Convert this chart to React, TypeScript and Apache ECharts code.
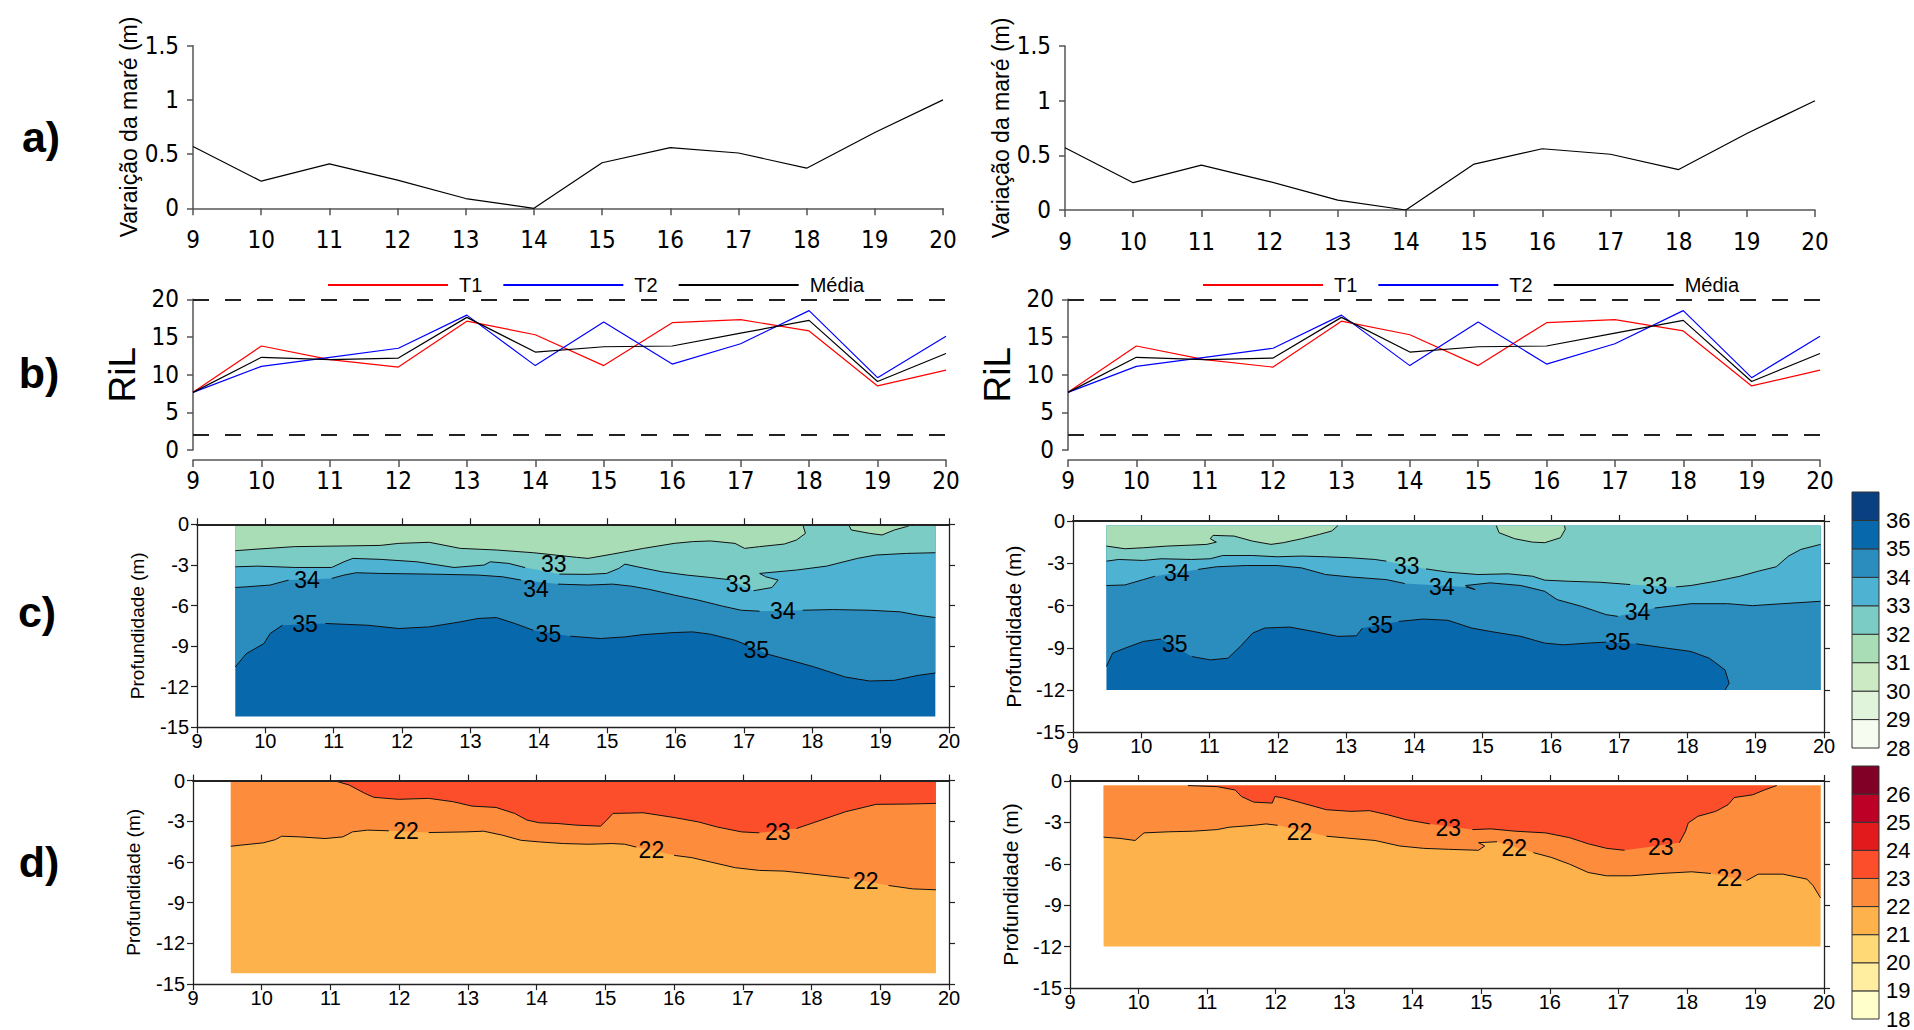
import React, { useEffect, useRef } from "react";
import * as echarts from "echarts";

// ---------------- data ----------------
const HOURS = [9, 10, 11, 12, 13, 14, 15, 16, 17, 18, 19, 20];
const TIDE_M = [0.57, 0.25, 0.41, 0.26, 0.09, 0.0, 0.42, 0.56, 0.51, 0.37, 0.7, 1.0];
const RIL_T1 = [7.65, 13.8, 12.0, 11.0, 17.1, 15.3, 11.2, 16.9, 17.3, 15.8, 8.5, 10.6];
const RIL_T2 = [7.65, 11.1, 12.3, 13.5, 17.9, 11.2, 17.0, 11.4, 14.1, 18.5, 9.6, 15.1];
const RIL_MEDIA = [7.65, 12.3, 12.0, 12.2, 17.6, 13.0, 13.7, 13.8, 15.5, 17.2, 9.1, 12.8];
const RIL_LIMITS = [20, 2];
const LEGEND_NAMES = ["T1", "T2", "Média"];
const TIDE_TITLES = ["Varaição da maré (m)", "Variação da maré (m)"];
const DEPTH_TITLE = "Profundidade (m)";
const RIL_TITLE = "RiL";
const PANEL_LETTERS = ["a)", "b)", "c)", "d)"];

const SAL_LEVELS = [28, 29, 30, 31, 32, 33, 34, 35, 36];
const SAL_COLORS = ["#f7fcf0", "#e0f3db", "#ccebc5", "#a8ddb5", "#7bccc4", "#4eb3d3", "#2b8cbe", "#0868ac", "#084081"];
const TEMP_LEVELS = [18, 19, 20, 21, 22, 23, 24, 25, 26];
const TEMP_COLORS = ["#ffffcc", "#ffeda0", "#fed976", "#feb24c", "#fd8d3c", "#fc4e2a", "#e31a1c", "#bd0026", "#800026"];

// data extents [xMin, xMax, top depth, bottom depth]
const C_LEFT_EXT = [9.56, 19.8, 0, -14.2];
const C_RIGHT_EXT = [9.49, 19.95, -0.33, -12];
const D_LEFT_EXT = [9.55, 19.81, 0, -14.2];
const D_RIGHT_EXT = [9.49, 19.95, -0.33, -12];

type P = number[] | null;

// salinity isolines, left section
const CL_32: P[] = [[9.56,-1.95],[9.89,-1.83],[10.43,-1.65],[11.15,-1.6],[11.68,-1.56],[11.95,-1.41],[12.4,-1.33],[12.85,-1.78],[13.38,-1.9],[13.92,-2.1],[14.55,-2.44],[14.72,-2.52],[15.08,-2.2],[15.53,-1.78],[15.98,-1.41],[16.25,-1.28],[16.51,-1.23],[16.87,-1.41],[17.01,-1.78],[17.23,-1.65],[17.59,-1.46],[17.77,-1.16],[17.9,-0.67],[17.86,0]];
const CL_32B: P[] = [[18.53,0],[18.57,-0.42],[18.84,-0.67],[19.02,-0.79],[19.2,-0.42],[19.38,-0.17],[19.47,0]];
const CL_33: P[] = [[9.56,-3.14],[9.89,-3.09],[10.43,-3.19],[10.97,-3.19],[11.15,-2.77],[11.28,-2.52],[11.68,-2.59],[12.22,-2.77],[12.76,-3.19],[13.2,-3.01],[13.29,-2.77],[13.56,-2.89],[13.8,-3.2],null,[14.3,-3.68],[14.72,-3.7],[14.99,-3.63],[15.17,-3.26],[15.26,-2.94],[15.44,-3.14],[15.8,-3.51],[16.16,-3.75],[16.51,-3.93],[16.8,-4.1],null,[17.14,-4.91],[17.41,-4.67],[17.5,-4.12],[17.32,-3.88],[17.23,-3.63],[17.77,-3.38],[18.21,-3.09],[18.66,-2.52],[18.93,-2.27],[19.38,-2.15],[19.8,-2.1]];
const CL_34: P[] = [[9.56,-4.67],[9.72,-4.62],[10.07,-4.49],[10.34,-4.12],null,[10.97,-4.0],[11.15,-3.75],[11.33,-3.58],[11.68,-3.63],[12.4,-3.68],[13.11,-3.75],[13.47,-3.88],[13.74,-4.12],null,[14.28,-4.42],[14.72,-4.49],[15.08,-4.42],[15.35,-4.57],[15.62,-4.81],[15.98,-5.23],[16.33,-5.6],[16.69,-6.05],[16.96,-6.35],[17.23,-6.42],null,[17.86,-6.35],[18.3,-6.3],[18.84,-6.35],[19.29,-6.47],[19.55,-6.72],[19.8,-6.89]];
const CL_35: P[] = [[9.56,-10.54],[9.72,-9.56],[9.98,-8.81],[10.07,-8.07],[10.25,-7.46],null,[10.88,-7.33],[11.5,-7.46],[11.95,-7.7],[12.4,-7.58],[12.85,-7.21],[13.11,-6.96],[13.38,-6.89],[13.65,-7.33],[13.92,-7.83],null,[14.46,-8.27],[14.9,-8.44],[15.26,-8.32],[15.53,-8.15],[15.98,-8.0],[16.25,-7.95],[16.51,-8.12],[16.87,-8.57],[17.05,-8.94],null,[17.32,-9.56],[17.68,-10.05],[18.03,-10.54],[18.48,-11.28],[18.84,-11.58],[19.2,-11.53],[19.55,-11.16],[19.8,-10.99]];
const CL_LABELS: any[] = [[10.61,-4.12,"34"],[10.58,-7.38,"35"],[14.22,-2.95,"33"],[13.96,-4.75,"34"],[14.14,-8.12,"35"],[16.92,-4.42,"33"],[17.57,-6.42,"34"],[17.18,-9.31,"35"]];

// salinity isolines, right section
const CR_32: P[] = [[9.49,-1.78],[9.76,-1.97],[10.03,-1.9],[10.38,-1.78],[10.74,-1.71],[10.96,-1.66],[11.1,-1.5],[11.01,-1.26],[11.05,-1.02],[11.36,-1.07],[11.63,-1.43],[11.9,-1.66],[12.08,-1.54],[12.35,-1.26],[12.61,-0.95],[12.79,-0.71],[12.88,-0.33]];
const CR_32B: P[] = [[15.2,-0.33],[15.24,-0.83],[15.47,-1.26],[15.73,-1.5],[15.91,-1.54],[16.14,-1.19],[16.21,-0.59],[16.2,-0.33]];
const CR_33: P[] = [[9.49,-2.85],[9.67,-2.73],[10.03,-2.8],[10.29,-2.68],[10.74,-2.73],[11.01,-2.68],[11.19,-2.45],[11.63,-2.45],[11.99,-2.54],[12.35,-2.49],[12.7,-2.54],[13.06,-2.61],[13.42,-2.73],[13.59,-2.85],null,[14.17,-3.4],[14.49,-3.63],[14.93,-3.8],[15.38,-3.75],[15.73,-3.92],[15.91,-4.2],[16.27,-4.28],[16.72,-4.35],[17.16,-4.51],null,[17.83,-4.68],[18.05,-4.58],[18.41,-4.28],[18.77,-3.92],[19.04,-3.56],[19.3,-3.25],[19.48,-2.49],[19.66,-2.02],[19.95,-1.66]];
const CR_34: P[] = [[9.49,-4.58],[9.76,-4.54],[10.03,-4.16],[10.2,-3.92],null,[10.83,-3.44],[11.1,-3.25],[11.54,-3.16],[11.99,-3.16],[12.35,-3.33],[12.7,-3.8],[13.06,-3.97],[13.59,-4.16],[13.86,-4.44],null,[14.75,-4.68],[14.89,-4.87],[14.75,-4.58],[15.11,-4.39],[15.56,-4.58],[15.91,-4.99],[16.09,-5.58],[16.45,-6.06],[16.81,-6.65],[16.98,-6.77],null,[17.52,-6.18],[18.05,-5.87],[18.59,-5.87],[18.95,-6.01],[19.39,-5.87],[19.95,-5.7]];
const CR_35: P[] = [[9.49,-10.33],[9.58,-9.38],[9.76,-9.03],[10.03,-8.55],[10.29,-8.38],null,[10.74,-9.62],[11.01,-9.86],[11.27,-9.74],[11.45,-8.91],[11.63,-7.96],[11.81,-7.6],[12.17,-7.53],[12.52,-7.84],[12.88,-8.19],[13.15,-8.15],[13.24,-7.6],null,[13.77,-7.13],[14.13,-6.96],[14.49,-7.05],[14.84,-7.6],[15.11,-7.84],[15.56,-8.19],[15.91,-8.67],[16.18,-8.79],[16.54,-8.67],[16.81,-8.6],null,[17.25,-8.72],[17.7,-9.03],[18.05,-9.26],[18.32,-9.74],[18.55,-10.57],[18.61,-11.52],[18.55,-12]];
const CR_LABELS: any[] = [[10.52,-3.67,"34"],[13.89,-3.2,"33"],[14.4,-4.67,"34"],[17.52,-4.62,"33"],[17.27,-6.44,"34"],[10.49,-8.7,"35"],[13.5,-7.39,"35"],[16.98,-8.62,"35"]];

// temperature isolines, left section
const DL_22: P[] = [[9.55,-4.84],[9.67,-4.77],[10.02,-4.59],[10.2,-4.35],[10.29,-4.1],[10.56,-4.15],[10.92,-4.27],[11.18,-4.15],[11.32,-3.78],[11.54,-3.65],[11.85,-3.7],null,[12.43,-3.83],[12.97,-3.78],[13.23,-3.73],[13.5,-4.02],[13.77,-4.4],[14.04,-4.52],[14.39,-4.64],[14.75,-4.69],[15.1,-4.64],[15.28,-4.69],[15.45,-4.9],null,[16.0,-5.51],[16.26,-5.68],[16.53,-6.0],[16.89,-6.42],[17.24,-6.62],[17.6,-6.67],[17.96,-6.86],[18.31,-7.06],[18.55,-7.2],null,[19.12,-7.73],[19.47,-7.98],[19.81,-8.05]];
const DL_23: P[] = [[11.05,0],[11.27,-0.32],[11.5,-0.94],[11.63,-1.23],[11.99,-1.38],[12.43,-1.31],[12.79,-1.56],[13.06,-1.88],[13.41,-1.98],[13.68,-2.42],[13.86,-2.91],[14.04,-3.11],[14.3,-3.16],[14.57,-3.28],[14.93,-3.36],[15.02,-2.91],[15.11,-2.42],[15.55,-2.37],[16.0,-2.72],[16.35,-3.04],[16.62,-3.41],[16.98,-3.78],[17.24,-3.85],null,[17.78,-3.53],[18.14,-2.91],[18.49,-2.3],[18.94,-1.75],[19.38,-1.73],[19.81,-1.68]];
const DL_LABELS: any[] = [[12.1,-3.7,"22"],[15.67,-5.14,"22"],[18.79,-7.41,"22"],[17.51,-3.78,"23"]];

// temperature isolines, right section
const DR_22: P[] = [[9.49,-4.07],[9.73,-4.16],[9.95,-4.31],[10.08,-3.76],[10.44,-3.68],[10.79,-3.64],[11.15,-3.52],[11.32,-3.35],[11.68,-3.21],[11.86,-3.11],[12.03,-3.21],null,[12.74,-4.0],[13.1,-4.16],[13.45,-4.31],[13.81,-4.71],[14.16,-4.88],[14.52,-4.95],[14.96,-5.02],[15.05,-4.71],[14.96,-4.47],[15.23,-4.4],null,[15.76,-5.19],[16.03,-5.55],[16.29,-6.03],[16.56,-6.63],[16.83,-6.87],[17.18,-6.87],[17.62,-6.7],[18.07,-6.58],[18.35,-6.7],null,[18.87,-7.22],[19.04,-6.75],[19.4,-6.75],[19.75,-7.11],[19.84,-7.58],[19.95,-8.47]];
const DR_23: P[] = [[10.72,-0.33],[11.15,-0.41],[11.41,-0.65],[11.5,-1.12],[11.68,-1.53],[11.95,-1.6],[11.99,-1.12],[12.12,-1.24],[12.39,-1.6],[12.74,-2.08],[13.1,-2.2],[13.37,-2.15],[13.63,-2.44],[13.9,-2.8],[14.25,-3.11],null,[14.87,-3.52],[15.14,-3.47],[15.5,-3.64],[15.94,-3.76],[16.29,-4.11],[16.56,-4.55],[16.83,-4.88],[17.09,-5.02],null,[17.89,-4.47],[17.98,-3.64],[18.02,-3.04],[18.16,-2.56],[18.42,-2.2],[18.6,-1.72],[18.69,-1.2],[18.96,-1.0],[19.13,-0.65],[19.31,-0.33]];
const DR_LABELS: any[] = [[12.35,-3.68,"22"],[15.48,-4.88,"22"],[18.62,-7.03,"22"],[14.52,-3.4,"23"],[17.62,-4.78,"23"]];

// ---------------- styling ----------------
const NARROW = "'Liberation Sans Narrow', 'Arial Narrow', 'DejaVu Sans Condensed', sans-serif";
const SANS = "'Liberation Sans', Arial, Helvetica, sans-serif";
const AX = "#555";

const LAYOUT: Record<string, any> = {
  aL: { left: 193, top: 45.7, width: 750, height: 162.6 },
  aR: { left: 1065, top: 46, width: 750, height: 164 },
  bL: { left: 193, top: 299.3, width: 753, height: 150.7 },
  bR: { left: 1068, top: 299.3, width: 752, height: 150.7 },
  cL: { left: 197, top: 524.3, width: 752, height: 203 },
  cR: { left: 1073, top: 521, width: 751, height: 211.3 },
  dL: { left: 193, top: 780.6, width: 756, height: 203.5 },
  dR: { left: 1070, top: 781, width: 754, height: 207 },
  cbC: { left: 1852, top: 492, width: 27, height: 256 },
  cbD: { left: 1852, top: 766, width: 27, height: 256 },
};

const clean = (pts: P[]) => pts.filter((p) => p) as number[][];
const segmentsOf = (pts: P[]) => {
  const out: number[][][] = [];
  let cur: number[][] = [];
  pts.forEach((p) => {
    if (p) cur.push(p);
    else {
      if (cur.length > 1) out.push(cur);
      cur = [];
    }
  });
  if (cur.length > 1) out.push(cur);
  return out;
};

function buildOption() {
  const grids: any[] = [];
  const xAxes: any[] = [];
  const yAxes: any[] = [];
  const series: any[] = [];

  const addGrid = (r: any) => {
    grids.push({ left: r.left, top: r.top, width: r.width, height: r.height, containLabel: false });
    return grids.length - 1;
  };

  // ---- line panels ----
  const lineX = (g: number, offset: number, margin: number) => ({
    type: "value", gridIndex: g, min: 9, max: 20, interval: 1, offset,
    axisLine: { show: true, onZero: false, lineStyle: { color: AX, width: 1.5 } },
    axisTick: { show: true, length: 7, lineStyle: { color: AX, width: 1.5 } },
    axisLabel: { color: "#000", fontFamily: NARROW, fontSize: 24, margin },
    splitLine: { show: false },
  });
  const lineY = (g: number, max: number, interval: number, name: string, nameStyle: any, gap: number) => ({
    type: "value", gridIndex: g, min: 0, max, interval,
    axisLine: { show: true, onZero: false, lineStyle: { color: AX, width: 1.5 } },
    axisTick: { show: true, length: 6, lineStyle: { color: AX, width: 1.5 } },
    axisLabel: { color: "#000", fontFamily: NARROW, fontSize: 24, margin: 14 },
    splitLine: { show: false },
    name, nameLocation: "middle", nameRotate: 90, nameGap: gap, nameTextStyle: nameStyle,
  });

  ["aL", "aR"].forEach((k, i) => {
    const g = addGrid(LAYOUT[k]);
    const xi = xAxes.push(lineX(g, 0, 20)) - 1;
    const yi = yAxes.push(lineY(g, 1.5, 0.5, TIDE_TITLES[i], { fontFamily: SANS, fontSize: 23, color: "#000" }, 50)) - 1;
    series.push({
      type: "line", xAxisIndex: xi, yAxisIndex: yi, symbol: "none", silent: true,
      data: HOURS.map((h, j) => [h, TIDE_M[j]]),
      lineStyle: { color: "#000", width: 1.2 },
    });
  });

  ["bL", "bR"].forEach((k) => {
    const g = addGrid(LAYOUT[k]);
    const xi = xAxes.push(lineX(g, 10, 9)) - 1;
    const yi = yAxes.push(lineY(g, 20, 5, RIL_TITLE, { fontFamily: SANS, fontSize: 37, color: "#000" }, 52)) - 1;
    const sets = [RIL_T1, RIL_T2, RIL_MEDIA];
    const cols = ["#ff0000", "#0000ff", "#000000"];
    sets.forEach((vals, j) => {
      const s: any = {
        type: "line", name: LEGEND_NAMES[j], xAxisIndex: xi, yAxisIndex: yi, symbol: "none", silent: true,
        data: HOURS.map((h, m) => [h, vals[m]]),
        lineStyle: { color: cols[j], width: 1.2 }, itemStyle: { color: cols[j] },
      };
      if (j === 2) {
        s.markLine = {
          silent: true, symbol: ["none", "none"], label: { show: false },
          lineStyle: { type: [16, 16], color: "#222", width: 2 },
          data: RIL_LIMITS.map((v) => ({ yAxis: v })),
        };
      }
      series.push(s);
    });
  });

  // ---- contour panels ----
  const addContour = (key: string, regions: any[], isolines: P[][], labels: any[], titleGap: number, titleSize: number) => {
    const g = addGrid(LAYOUT[key]);
    const axisBase = (extra: any) => ({
      type: "value", gridIndex: g, splitLine: { show: false }, z: 5,
      axisLine: { show: true, onZero: false, lineStyle: { color: "#222", width: 1.3 } },
      axisTick: { show: true, length: 6, lineStyle: { color: "#222", width: 1.2 } },
      ...extra,
    });
    const xb = xAxes.push(axisBase({ min: 9, max: 20, interval: 1, position: "bottom",
      axisLabel: { color: "#000", fontFamily: SANS, fontSize: 20, margin: 4 } })) - 1;
    xAxes.push(axisBase({ min: 9, max: 20, interval: 1, position: "top", axisLabel: { show: false },
      axisLine: { show: true, onZero: false, lineStyle: { color: "#222", width: 2 } } }));
    const yl = yAxes.push(axisBase({ min: -15, max: 0, interval: 3, position: "left",
      axisLabel: { color: "#000", fontFamily: SANS, fontSize: 20, margin: 8 },
      name: DEPTH_TITLE, nameLocation: "middle", nameRotate: 90, nameGap: titleGap,
      nameTextStyle: { fontFamily: SANS, fontSize: titleSize, color: "#000" } })) - 1;
    yAxes.push(axisBase({ min: -15, max: 0, interval: 3, position: "right", axisLabel: { show: false } }));

    series.push({
      type: "custom", xAxisIndex: xb, yAxisIndex: yl, silent: true, clip: false, z: 1,
      data: regions.map((r) => [r.pts[0][0], r.pts[0][1]]),
      renderItem: (params: any, api: any) => {
        const r = regions[params.dataIndex];
        return { type: "polygon", shape: { points: r.pts.map((p: number[]) => api.coord(p)) }, style: { fill: r.color, stroke: null } };
      },
    });
    const segs: number[][][] = [];
    isolines.forEach((iso) => segmentsOf(iso).forEach((s) => segs.push(s)));
    series.push({
      type: "custom", xAxisIndex: xb, yAxisIndex: yl, silent: true, clip: false, z: 3,
      data: segs.map((s) => [s[0][0], s[0][1]]),
      renderItem: (params: any, api: any) => {
        const s = segs[params.dataIndex];
        return { type: "polyline", shape: { points: s.map((p) => api.coord(p)) }, style: { stroke: "#111", lineWidth: 1, fill: null } };
      },
    });
    series.push({
      type: "custom", xAxisIndex: xb, yAxisIndex: yl, silent: true, clip: false, z: 4,
      data: labels.map((l) => [l[0], l[1]]),
      renderItem: (params: any, api: any) => {
        const l = labels[params.dataIndex];
        const c = api.coord([l[0], l[1]]);
        return { type: "text", x: c[0], y: c[1], style: { text: l[2], fontFamily: SANS, fontSize: 23, fill: "#000", align: "center", verticalAlign: "middle" } };
      },
    });
  };

  const rect = (e: number[]) => [[e[0], e[2]], [e[1], e[2]], [e[1], e[3]], [e[0], e[3]]];
  const sal = (b: number) => SAL_COLORS[SAL_LEVELS.indexOf(b)];
  const tmp = (b: number) => TEMP_COLORS[TEMP_LEVELS.indexOf(b)];
  const topR = (e: number[]) => [e[1], e[2]];
  const topL = (e: number[]) => [e[0], e[2]];
  const botR = (e: number[]) => [e[1], e[3]];

  const e1 = C_LEFT_EXT;
  addContour("cL", [
    { color: sal(35), pts: rect(e1) },
    { color: sal(34), pts: [...clean(CL_35), topR(e1), topL(e1)] },
    { color: sal(33), pts: [...clean(CL_34), topR(e1), topL(e1)] },
    { color: sal(32), pts: [...clean(CL_33), topR(e1), topL(e1)] },
    { color: sal(31), pts: [...clean(CL_32), topL(e1)] },
    { color: sal(31), pts: clean(CL_32B) },
  ], [CL_32, CL_32B, CL_33, CL_34, CL_35], CL_LABELS, 50, 19);

  const e2 = C_RIGHT_EXT;
  addContour("cR", [
    { color: sal(35), pts: rect(e2) },
    { color: sal(34), pts: [...clean(CR_35), botR(e2), topR(e2), topL(e2)] },
    { color: sal(33), pts: [...clean(CR_34), topR(e2), topL(e2)] },
    { color: sal(32), pts: [...clean(CR_33), topR(e2), topL(e2)] },
    { color: sal(31), pts: [...clean(CR_32), topL(e2)] },
    { color: sal(31), pts: clean(CR_32B) },
  ], [CR_32, CR_32B, CR_33, CR_34, CR_35], CR_LABELS, 49, 21);

  const e3 = D_LEFT_EXT;
  addContour("dL", [
    { color: tmp(21), pts: rect(e3) },
    { color: tmp(22), pts: [...clean(DL_22), topR(e3), topL(e3)] },
    { color: tmp(23), pts: [...clean(DL_23), topR(e3)] },
  ], [DL_22, DL_23], DL_LABELS, 50, 19);

  const e4 = D_RIGHT_EXT;
  addContour("dR", [
    { color: tmp(21), pts: rect(e4) },
    { color: tmp(22), pts: [...clean(DR_22), topR(e4), topL(e4)] },
    { color: tmp(23), pts: clean(DR_23) },
  ], [DR_22, DR_23], DR_LABELS, 49, 21);

  // ---- colour bars ----
  const addBar = (key: string, levels: number[], colors: string[]) => {
    const g = addGrid(LAYOUT[key]);
    const xi = xAxes.push({ type: "value", gridIndex: g, min: 0, max: 1, show: false }) - 1;
    const top = levels[levels.length - 1] + 1;
    const yi = yAxes.push({
      type: "value", gridIndex: g, min: levels[0], max: top, interval: 1, position: "right",
      axisLine: { show: false }, axisTick: { show: false }, splitLine: { show: false },
      axisLabel: { color: "#000", fontFamily: SANS, fontSize: 22, margin: 7,
        formatter: (v: number) => (v === top ? "" : String(v)) },
    }) - 1;
    series.push({
      type: "custom", xAxisIndex: xi, yAxisIndex: yi, silent: true, clip: false,
      data: levels.map((l) => [0, l]),
      renderItem: (params: any, api: any) => {
        const l = levels[params.dataIndex];
        const p1 = api.coord([0, l + 1]);
        const p2 = api.coord([1, l]);
        return { type: "rect", shape: { x: p1[0], y: p1[1], width: p2[0] - p1[0], height: p2[1] - p1[1] },
          style: { fill: colors[params.dataIndex], stroke: "#333", lineWidth: 1 } };
      },
    });
  };
  addBar("cbC", SAL_LEVELS, SAL_COLORS);
  addBar("cbD", TEMP_LEVELS, TEMP_COLORS);

  const letterPos = [[41, 137], [39, 373], [37, 612], [39, 862]];
  const graphic = PANEL_LETTERS.map((t, i) => ({
    type: "text", x: letterPos[i][0], y: letterPos[i][1],
    style: { text: t, fontFamily: SANS, fontWeight: "bold", fontSize: 43, fill: "#000", align: "center", verticalAlign: "middle" },
  }));

  const legendBase = {
    data: LEGEND_NAMES, top: 275, padding: 0, itemWidth: 120, itemHeight: 14, itemGap: 20, selectedMode: false,
    itemStyle: { opacity: 0 },
    textStyle: { fontFamily: SANS, fontSize: 20, color: "#000", padding: [0, 0, 0, 6] },
  };

  return {
    animation: false,
    backgroundColor: "#ffffff",
    textStyle: { fontFamily: SANS },
    grid: grids,
    xAxis: xAxes,
    yAxis: yAxes,
    series,
    legend: [{ ...legendBase, left: 327 }, { ...legendBase, left: 1202 }],
    graphic,
  };
}

export default function App() {
  const ref = useRef<HTMLDivElement>(null);
  useEffect(() => {
    const chart = echarts.init(ref.current as HTMLDivElement, null, { renderer: "svg" });
    chart.setOption(buildOption() as any);
    return () => chart.dispose();
  }, []);
  return <div ref={ref} style={{ position: "fixed", left: 0, top: 0, width: 1914, height: 1030, background: "#fff" }} />;
}
